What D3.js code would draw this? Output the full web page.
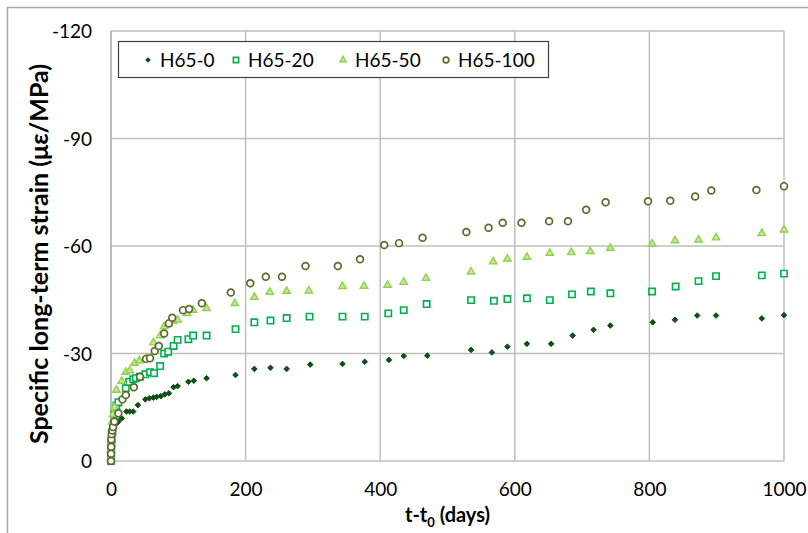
<!DOCTYPE html>
<html>
<head>
<meta charset="utf-8">
<script src="https://cdn.jsdelivr.net/npm/d3@7"></script>
<style>
  body { margin: 0; background: #fff; }
  #chart { width: 808px; height: 533px; }
  .chart text { font-family: Lato, "Open Sans", sans-serif; fill: #000; }
</style>
</head>
<body>
<div id="chart"></div>
<script>
// series names
var seriesNames = ['H65-0', 'H65-20', 'H65-50', 'H65-100'];

// tick labels
var xTicks = [0, 200, 400, 600, 800, 1000];
var yTicks = [0, -30, -60, -90, -120];

// [days, specific strain]
var h65_0 = [[0,0],[0.1,-2],[0.3,-3.5],[0.5,-5],[1,-6.5],[2,-8],[3,-9],[5,-10],[8,-10.5],[11,-11],
  [16,-11.9],[23,-13.8],[28,-13.8],[33,-13.8],[40,-15.6],[51,-17.2],[57,-17.5],[63,-17.7],[68,-17.9],
  [74,-18.1],[80,-18.6],[86,-18.9],[93,-20.6],[99,-20.9],[115,-22.1],[123,-22.4],[142,-23.1],[185,-24.0],
  [213,-25.7],[237,-26.0],[261,-25.7],[296,-26.9],[344,-27.1],[377,-27.7],[413,-28.2],[435,-29.3],
  [470,-29.4],[535,-31.0],[566,-30.3],[589,-31.9],[618,-32.7],[654,-32.7],[686,-35.0],[717,-36.6],
  [742,-37.8],[805,-38.7],[838,-39.4],[871,-40.6],[899,-40.6],[967,-39.8],[1000,-40.7]];

var h65_20 = [[0,0],[0.1,-1.5],[0.3,-3],[0.5,-4.5],[1,-6],[2,-8],[3,-10],[5,-13],[8,-15.5],[11,-16.4],
  [22,-20.3],[27,-22.1],[33,-22.8],[37,-23.1],[43,-23.5],[51,-24.2],[58,-24.8],[64,-24.5],[73,-26.5],
  [79,-30.0],[85,-30.5],[93,-32.1],[99,-33.8],[115,-34.0],[122,-35.0],[142,-35.0],[185,-36.8],
  [213,-38.7],[237,-39.2],[261,-39.9],[295,-40.3],[344,-40.3],[377,-40.3],[412,-41.2],[435,-42.1],
  [469,-43.8],[535,-44.9],[569,-44.7],[589,-45.2],[618,-45.4],[652,-44.9],[685,-46.5],[713,-47.3],
  [742,-46.8],[804,-47.3],[839,-48.7],[873,-50.2],[899,-51.6],[967,-51.8],[1000,-52.3]];

var h65_50 = [[0,-1],[0.1,-3],[0.3,-5],[0.5,-7],[1,-9],[2,-11],[3,-13],[5,-15],[8,-19.8],[16,-22.3],
  [22,-24.8],[28,-25.2],[35,-27.3],[42,-28.0],[53,-28.7],[63,-33.0],[73,-35.0],[79,-37.5],[85,-38.2],
  [93,-39.1],[99,-39.4],[113,-41.2],[122,-42.1],[142,-42.6],[184,-44.0],[213,-45.7],[236,-47.1],
  [261,-47.4],[294,-47.5],[344,-48.7],[376,-48.8],[411,-49.1],[435,-49.9],[468,-51.0],[535,-52.8],
  [568,-55.6],[589,-56.4],[618,-56.9],[652,-58.0],[684,-58.2],[712,-58.5],[742,-59.4],[804,-60.6],
  [838,-61.5],[873,-61.7],[899,-62.3],[967,-63.5],[1000,-64.5]];

var h65_100 = [[0,0],[0.1,-2],[0.3,-4],[0.5,-6],[1,-7.5],[2,-8.5],[3,-9.5],[5,-11],[11,-13.3],[17,-17.2],
  [22,-18.4],[34,-20.6],[43,-23.5],[52,-28.5],[58,-28.7],[65,-30.7],[71,-32.1],[79,-35.6],[86,-38.4],
  [91,-40.0],[107,-42.1],[116,-42.4],[135,-44.0],[178,-47.0],[207,-49.6],[230,-51.4],[254,-51.4],
  [289,-54.4],[337,-54.4],[370,-56.3],[406,-60.3],[428,-60.8],[463,-62.3],[528,-63.9],[561,-65.1],
  [582,-66.5],[610,-66.5],[651,-66.9],[679,-66.9],[706,-70.1],[735,-72.2],[798,-72.5],[831,-72.6],
  [868,-73.8],[892,-75.5],[959,-75.6],[1000,-76.7]];

var seriesData = [h65_0, h65_20, h65_50, h65_100];

// marker styles per series
var styles = [
  { symbol: d3.symbolDiamond2, size: 20, fill: '#0e4d16', stroke: '#0e4d16', width: 1 },
  { symbol: d3.symbolSquare, size: 40, fill: '#fff', stroke: '#00b050', width: 1.6 },
  { symbol: d3.symbolTriangle, size: 24, fill: '#c4e89a', stroke: '#92d050', width: 1.4 },
  { symbol: d3.symbolCircle, size: 36, fill: '#fff', stroke: '#5b6b2c', width: 1.7 }
];

var margin = { top: 31, right: 24, bottom: 72, left: 111 };
var width = 808 - margin.left - margin.right;
var height = 533 - margin.top - margin.bottom;

var svg = d3.select('#chart').append('svg')
  .attr('width', 808)
  .attr('height', 533)
  .attr('class', 'chart');

// outer chart frame (top and left edges only are visible)
svg.append('path')
  .attr('d', 'M7.5,533 L7.5,7.5 L808,7.5')
  .attr('fill', 'none')
  .attr('stroke', '#a6a6a6')
  .attr('stroke-width', 1.5);

var main = svg.append('g')
  .attr('transform', 'translate(' + margin.left + ',' + margin.top + ')');

var x = d3.scaleLinear().domain([0, 1000]).range([0, width]);
var y = d3.scaleLinear().domain([0, -120]).range([height, 0]);

// grid lines
main.append('g')
  .selectAll('line')
  .data(yTicks)
  .enter()
  .append('line')
  .attr('x1', 0)
  .attr('x2', width)
  .attr('y1', d => y(d))
  .attr('y2', d => y(d))
  .style('stroke', '#bfbfbf')
  .style('stroke-width', 1.5);

main.append('g')
  .selectAll('line')
  .data(xTicks)
  .enter()
  .append('line')
  .attr('x1', d => x(d))
  .attr('x2', d => x(d))
  .attr('y1', 0)
  .attr('y2', height)
  .style('stroke', d => d === 0 ? '#a6a6a6' : '#bfbfbf')
  .style('stroke-width', 1.5);

// axes, plain hyphen minus and no thousands comma like the original
var xAxis = d3.axisBottom(x).tickValues(xTicks).tickSize(0).tickPadding(22)
  .tickFormat(d => String(d));
var yAxis = d3.axisLeft(y).tickValues(yTicks).tickSize(0).tickPadding(19)
  .tickFormat(d => String(d));

var gx = main.append('g')
  .attr('transform', 'translate(0,' + height + ')')
  .call(xAxis);
gx.select('.domain').remove();
gx.selectAll('text').style('font-size', '19px');

var gy = main.append('g').call(yAxis);
gy.select('.domain').remove();
gy.selectAll('text').style('font-size', '19px').attr('dy', '0.36em');

// axis titles
var xTitle = svg.append('text')
  .attr('x', margin.left + width / 2)
  .attr('y', 522)
  .attr('text-anchor', 'middle')
  .style('font-size', '20px')
  .style('font-weight', 'bold');
xTitle.append('tspan').text('t-t');
xTitle.append('tspan').attr('dy', 5).style('font-size', '13px').text('0');
xTitle.append('tspan').attr('dy', -5).text(' (days)');

svg.append('text')
  .attr('transform', 'translate(48,' + (margin.top + height / 2 + 8) + ') rotate(-90)')
  .attr('text-anchor', 'middle')
  .style('font-size', '25px')
  .style('font-weight', 'bold')
  .text('Specific long-term strain (\u03bc\u03b5/MPa)');

// data points
var pointsLayer = main.append('g');
seriesData.forEach(function(data, i) {
  var st = styles[i];
  pointsLayer.append('g')
    .selectAll('path')
    .data(data)
    .enter()
    .append('path')
    .attr('transform', d => 'translate(' + x(d[0]) + ',' + y(d[1]) + ')')
    .attr('d', d3.symbol().type(st.symbol).size(st.size))
    .style('fill', st.fill)
    .style('stroke', st.stroke)
    .style('stroke-width', st.width);
});

// legend
var legend = svg.append('g').attr('transform', 'translate(118,41)');
legend.append('rect')
  .attr('x', 0.5)
  .attr('y', 0.5)
  .attr('width', 430)
  .attr('height', 36)
  .style('fill', '#fff')
  .style('stroke', '#404040')
  .style('stroke-width', 1.2);

var legendX = [30, 118, 225, 328];
seriesNames.forEach(function(name, i) {
  var st = styles[i];
  var item = legend.append('g').attr('transform', 'translate(' + legendX[i] + ',19)');
  item.append('path')
    .attr('d', d3.symbol().type(st.symbol).size(st.size * 0.7))
    .style('fill', st.fill)
    .style('stroke', st.stroke)
    .style('stroke-width', st.width);
  item.append('text')
    .attr('x', 12)
    .attr('dy', '0.36em')
    .style('font-size', '19px')
    .text(name);
});
</script>
</body>
</html>
